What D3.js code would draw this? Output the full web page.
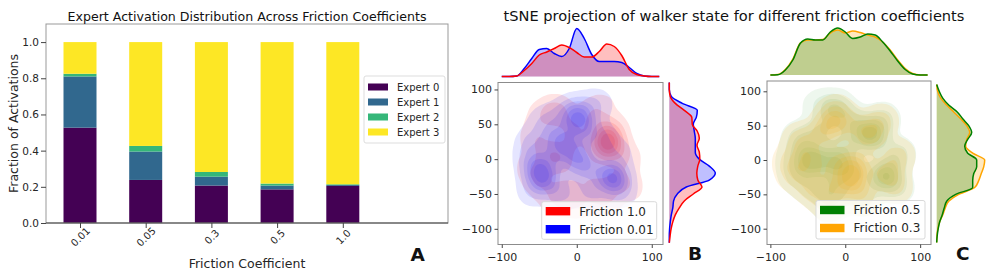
<!DOCTYPE html>
<html lang="en">
<head>
<meta charset="UTF-8">
<title>Expert activation and tSNE projection</title>
<script src="https://d3js.org/d3.v7.min.js"></script>
<style>
  body { margin: 0; background: #fff; }
  svg { font-family: "DejaVu Sans", sans-serif; display: block; }
</style>
</head>
<body>
<svg id="fig" width="997" height="277"></svg>
<script>
// ---- panel A: stacked bars ----
const frictions = ["0.01", "0.05", "0.3", "0.5", "1.0"];
const experts = ["Expert 0", "Expert 1", "Expert 2", "Expert 3"];
const expert0 = [0.527, 0.238, 0.207, 0.186, 0.205];
const expert1 = [0.283, 0.157, 0.049, 0.021, 0.005];
const expert2 = [0.015, 0.031, 0.026, 0.011, 0.004];
const expert3 = [0.175, 0.574, 0.718, 0.782, 0.786];
const yTicksA = [0, 0.2, 0.4, 0.6, 0.8, 1.0];
const viridis4 = ["#440154", "#31688e", "#35b779", "#fde725"];

// ---- panels B / C: tSNE kde (estimated density modes: x, y, weight) ----
const redB = [
  [38, 30, 3], [46, 18, 3], [44, 40, 2], [34, 12, 1.5],
  [-28, 67, 2], [-24, -2, 2], [-38, 12, 1.2],
  [-14, -48, 1.8], [32, -46, 1.8], [55, -30, 1.2], [-48, -34, 1.2],
  [0, 22, 1], [10, -20, 1], [-8, 42, 1], [18, 62, 1], [-56, 30, 1],
  [66, 2, 1], [70, -40, 0.8], [2, -64, 1], [34, 74, 0.7], [-50, 62, 0.7],
  [-60, -12, 1], [-30, -62, 0.8], [40, -66, 0.6]
];
const blueB = [
  [0, 66, 2.2], [6, 48, 2.2],
  [-26, 28, 1.8], [-12, 20, 1.2], [1, 8, 1.4], [2, -8, 1.2],
  [-52, -14, 2.2], [-42, -30, 2.2], [46, -24, 2.2], [52, -32, 1.4],
  [-30, 0, 1], [20, -14, 1], [-58, 22, 1], [30, 30, 0.9], [52, 8, 0.6],
  [-20, -50, 0.8], [18, -48, 0.8], [58, -50, 0.5], [-58, -44, 0.7],
  [-22, 60, 0.8], [26, 78, 0.7], [-44, 52, 0.7], [-62, 0, 0.6]
];
const greenC = [
  [-13, 74, 1.5], [30, 40, 1.4], [38, 33, 1.4],
  [-48, 2, 1.6], [-40, -4, 1.2], [-8, -6, 1.6], [-20, 0, 1],
  [56, -20, 1.6], [48, -28, 1], [-13, -40, 1.2], [-42, -42, 0.9],
  [12, -18, 1], [2, 24, 1], [-60, 30, 1], [-32, 40, 1], [10, 56, 1],
  [50, 58, 0.8], [70, 8, 0.8], [70, -40, 0.6], [-64, -24, 0.8],
  [-20, -66, 0.8], [22, -56, 0.8], [-36, 78, 0.5], [-70, 0, 0.6]
];
const orangeC = [
  [-17, 54, 1.6], [-12, 70, 0.8], [32, 38, 1.6],
  [-46, 0, 1.4], [-8, -6, 1.4], [16, -6, 1.6], [14, -30, 1.6], [2, -32, 1],
  [56, -20, 1.3], [-42, -40, 1.3], [-14, -40, 0.9],
  [-60, 28, 1], [-32, 38, 1], [8, 50, 0.8], [48, 56, 0.8], [70, 6, 0.8],
  [68, -40, 0.6], [-66, -22, 0.9], [-22, -64, 0.8], [24, -56, 0.8], [-74, -2, 0.7]
];

// marginal densities
const topGrid = [-100, -90, -80, -70, -60, -50, -40, -30, -20, -10, 0, 10, 20, 30, 40, 50, 60, 70, 80, 90, 100, 110];
const rightGrid = [-120, -110, -100, -90, -80, -70, -60, -50, -40, -30, -20, -10, 0, 10, 20, 30, 40, 50, 60, 70, 80, 90, 100, 110];
const blueTopB = [0, 0, 0.5, 8, 18, 27, 28, 23, 20, 28, 48, 38, 22, 15, 15, 15, 14, 9, 3, 0.5, 0, 0];
const redTopB = [0, 0, 0.5, 6, 13, 21.5, 24.5, 28, 31.5, 29, 24, 19.5, 19.5, 25, 32.5, 30, 21, 7, 2, 0.5, 0, 0];
const blueRightB = [0, 0, 0.3, 1, 2, 3.5, 4.3, 8, 17, 40, 46, 40, 30, 26, 26, 26, 25, 24, 27, 28, 13, 2, 0, 0];
const redRightB = [0, 0.8, 1.8, 3.5, 6, 10, 15, 24, 32.7, 28.5, 27.5, 28.5, 30.5, 30, 27.7, 30, 28, 23, 22.5, 15, 6, 1, 0, 0];
const greenTopC = [0, 0.3, 5, 15, 31.7, 36, 35, 35, 43, 47, 43, 36.5, 38, 41, 40, 33, 24, 14, 5.5, 1, 0, 0];
const orangeTopC = [0, 0.4, 5.5, 16, 32, 35, 35, 35.5, 42, 45, 42, 44, 42.5, 40, 38, 33, 25, 15, 6.5, 1.5, 0, 0];
const greenRightC = [0, 0.5, 1.5, 3, 5.5, 7.5, 10, 19, 36, 36, 37, 40, 40, 31, 28, 31, 35, 32, 26, 20.5, 12, 6, 2.5, 0];
const orangeRightC = [0, 0.3, 1.2, 3, 6, 8.5, 12, 22, 38, 42, 44.5, 47, 48, 36, 29, 30, 33, 30, 24, 17, 10, 4, 1, 0];

const xTicksJ = [-100, 0, 100];
const yTicksJ = [-100, -50, 0, 50, 100];
const levelFracs = [0.05, 0.18, 0.34, 0.5, 0.66, 0.82];

const svg = d3.select("#fig");
const ink = "#262626";

function styleAxis(g, size) {
  g.attr("font-family", "DejaVu Sans").attr("font-size", size);
  g.selectAll(".tick text").attr("fill", ink);
  g.selectAll(".tick line").attr("stroke", "#444");
}

// ================= Panel A =================
const xA = d3.scalePoint().domain(frictions).range([80, 342.8]);
const yA = d3.scaleLinear().domain([0, 1.1]).range([223, 24]);
const colorA = d3.scaleOrdinal().domain(experts).range(viridis4);
const rowsA = frictions.map((f, i) => ({
  f: f, "Expert 0": expert0[i], "Expert 1": expert1[i], "Expert 2": expert2[i], "Expert 3": expert3[i]
}));
const stackA = d3.stack().keys(experts)(rowsA);
const barW = 33;

svg.append("g").selectAll("g").data(stackA).join("g")
  .attr("fill", d => colorA(d.key))
  .selectAll("rect").data(d => d).join("rect")
  .attr("x", d => xA(d.data.f) - barW / 2)
  .attr("width", barW)
  .attr("y", d => yA(d[1]))
  .attr("height", d => yA(d[0]) - yA(d[1]));

// frame
svg.append("rect").attr("x", 46).attr("y", 24).attr("width", 402).attr("height", 199)
  .attr("fill", "none").attr("stroke", "#999").attr("stroke-width", 1);
svg.append("line").attr("x1", 46).attr("x2", 448).attr("y1", 223).attr("y2", 223)
  .attr("stroke", "#444").attr("stroke-width", 1.2);

const yAxA = svg.append("g").attr("transform", "translate(46,0)")
  .call(d3.axisLeft(yA).tickValues(yTicksA).tickFormat(d3.format(".1f")).tickSize(5).tickPadding(2));
yAxA.select(".domain").remove();
styleAxis(yAxA, 10.5);

const xAxA = svg.append("g").attr("transform", "translate(0,223)")
  .call(d3.axisBottom(xA).tickSize(5));
xAxA.select(".domain").remove();
styleAxis(xAxA, 10);
xAxA.selectAll(".tick text")
  .attr("y", 0).attr("dy", "0.35em")
  .attr("transform", "translate(0,14) rotate(-45)")
  .attr("text-anchor", "middle");

svg.append("text").attr("x", 247).attr("y", 21).attr("text-anchor", "middle")
  .attr("font-size", 12.6).attr("fill", "#111")
  .text("Expert Activation Distribution Across Friction Coefficients");
svg.append("text").attr("x", 247).attr("y", 268).attr("text-anchor", "middle")
  .attr("font-size", 12.5).attr("fill", ink).text("Friction Coefficient");
svg.append("text").attr("transform", "translate(17.5,123.5) rotate(-90)").attr("text-anchor", "middle")
  .attr("font-size", 12.5).attr("fill", ink).text("Fraction of Activations");

// legend A
const legA = svg.append("g");
legA.append("rect").attr("x", 364).attr("y", 76).attr("width", 81).attr("height", 67).attr("rx", 2)
  .attr("fill", "#fff").attr("fill-opacity", 0.85).attr("stroke", "#ddd");
legA.selectAll("g").data(experts).join("g")
  .attr("transform", (d, i) => `translate(368,${87 + i * 15})`)
  .each(function (d) {
    const g = d3.select(this);
    g.append("rect").attr("x", 0).attr("y", -3.5).attr("width", 20).attr("height", 7).attr("fill", colorA(d));
    g.append("text").attr("x", 29).attr("y", 3.6).attr("font-size", 10).attr("fill", ink).text(d);
  });

svg.append("text").attr("x", 410.5).attr("y", 260.5).attr("font-size", 18.5).attr("font-weight", "bold")
  .attr("fill", "#111").text("A");

// ================= Panels B / C =================
svg.append("text").attr("x", 734).attr("y", 21).attr("text-anchor", "middle")
  .attr("font-size", 14.6).attr("fill", "#111")
  .text("tSNE projection of walker state for different friction coefficients");

function jointPanel(cfg) {
  const x = d3.scaleLinear().domain(cfg.xDomain).range([cfg.left, cfg.right]);
  const y = d3.scaleLinear().domain(cfg.yDomain).range([cfg.bottom, cfg.top]);
  const w = cfg.right - cfg.left, h = cfg.bottom - cfg.top;

  svg.append("clipPath").attr("id", "clip" + cfg.id)
    .append("rect").attr("x", cfg.left).attr("y", cfg.top).attr("width", w).attr("height", h);
  const kde = svg.append("g").attr("clip-path", `url(#clip${cfg.id})`);

  // 2-D density, one set of filled levels per series
  cfg.series.forEach(s => {
    const dens = d3.contourDensity()
      .x(p => x(p[0])).y(p => y(p[1])).weight(p => p[2])
      .size([997, 277]).cellSize(2).bandwidth(cfg.bw);
    const probe = dens.thresholds(120)(s.pts);
    const maxD = d3.max(probe, c => c.value);
    const bands = dens.thresholds(levelFracs.map(f => f * maxD))(s.pts);
    kde.append("g").selectAll("path").data(bands).join("path")
      .attr("d", d3.geoPath())
      .attr("fill", s.color).attr("fill-opacity", s.alpha);
  });

  svg.append("rect").attr("x", cfg.left).attr("y", cfg.top).attr("width", w).attr("height", h)
    .attr("fill", "none").attr("stroke", "#8c8c8c").attr("stroke-width", 1);

  // marginals
  const ty = d3.scaleLinear().domain([0, 50]).range([cfg.topBase, cfg.topBase - 50]);
  const rx = d3.scaleLinear().domain([0, 50]).range([cfg.rightBase, cfg.rightBase + 50]);
  const topArea = d3.area().x(d => x(d[0])).y0(ty(0)).y1(d => ty(d[1])).curve(d3.curveMonotoneX);
  const topLine = d3.line().x(d => x(d[0])).y(d => ty(d[1])).curve(d3.curveMonotoneX);
  const rightArea = d3.area().y(d => y(d[0])).x0(rx(0)).x1(d => rx(d[1])).curve(d3.curveMonotoneY);
  const rightLine = d3.line().y(d => y(d[0])).x(d => rx(d[1])).curve(d3.curveMonotoneY);

  const marg = svg.append("g");
  cfg.series.slice().reverse().forEach(s => {
    marg.append("path").attr("d", topArea(d3.zip(topGrid, s.top))).attr("fill", s.color).attr("fill-opacity", 0.25);
    marg.append("path").attr("d", rightArea(d3.zip(rightGrid, s.right))).attr("fill", s.color).attr("fill-opacity", 0.25);
  });
  cfg.series.slice().reverse().forEach(s => {
    marg.append("path").attr("d", topLine(d3.zip(topGrid, s.top)))
      .attr("fill", "none").attr("stroke", s.color).attr("stroke-width", 1.5);
    marg.append("path").attr("d", rightLine(d3.zip(rightGrid, s.right)))
      .attr("fill", "none").attr("stroke", s.color).attr("stroke-width", 1.5);
  });

  // axes
  const xAx = svg.append("g").attr("transform", `translate(0,${cfg.bottom})`)
    .call(d3.axisBottom(x).tickValues(xTicksJ).tickFormat(d3.format("d")).tickSize(3.5).tickPadding(5));
  xAx.select(".domain").remove();
  styleAxis(xAx, 11);
  const yAx = svg.append("g").attr("transform", `translate(${cfg.left},0)`)
    .call(d3.axisLeft(y).tickValues(yTicksJ).tickFormat(d3.format("d")).tickSize(3.5).tickPadding(2.5));
  yAx.select(".domain").remove();
  styleAxis(yAx, 11);

  // legend
  const leg = svg.append("g");
  leg.append("rect").attr("x", cfg.legend[0]).attr("y", cfg.legend[1])
    .attr("width", cfg.legend[2]).attr("height", cfg.legend[3]).attr("rx", 2)
    .attr("fill", "#fff").attr("fill-opacity", 0.8).attr("stroke", "#d9d9d9");
  cfg.series.forEach((s, i) => {
    const cy = cfg.legend[1] + 9.5 + i * 18;
    leg.append("rect").attr("x", cfg.legend[0] + 4).attr("y", cy - 4.2)
      .attr("width", 24.5).attr("height", 8.4).attr("fill", s.color);
    leg.append("text").attr("x", cfg.legend[0] + 37.5).attr("y", cy + 4.3)
      .attr("font-size", 12).attr("fill", ink).text(s.name);
  });

  svg.append("text").attr("x", cfg.letterX).attr("y", 260).attr("font-size", 18.5)
    .attr("font-weight", "bold").attr("fill", "#111").text(cfg.letter);
}

jointPanel({
  id: "B", letter: "B", letterX: 688,
  left: 498, right: 663, top: 82.5, bottom: 244.5,
  xDomain: [-105, 115], yDomain: [-122.5, 110],
  topBase: 76.5, rightBase: 669.3, bw: 9,
  legend: [541.7, 201.7, 115, 37.6],
  series: [
    { name: "Friction 1.0", color: "#ff0000", alpha: 0.11, pts: redB, top: redTopB, right: redRightB },
    { name: "Friction 0.01", color: "#0000ff", alpha: 0.1, pts: blueB, top: blueTopB, right: blueRightB }
  ]
});

jointPanel({
  id: "C", letter: "C", letterX: 956,
  left: 767, right: 931, top: 81, bottom: 244.5,
  xDomain: [-104.5, 114.5], yDomain: [-123, 115],
  topBase: 75, rightBase: 936.7, bw: 9,
  legend: [816, 200.5, 109, 38.5],
  series: [
    { name: "Friction 0.5", color: "#008000", alpha: 0.065, pts: greenC, top: greenTopC, right: greenRightC },
    { name: "Friction 0.3", color: "#ffa500", alpha: 0.12, pts: orangeC, top: orangeTopC, right: orangeRightC }
  ]
});
</script>
</body>
</html>
